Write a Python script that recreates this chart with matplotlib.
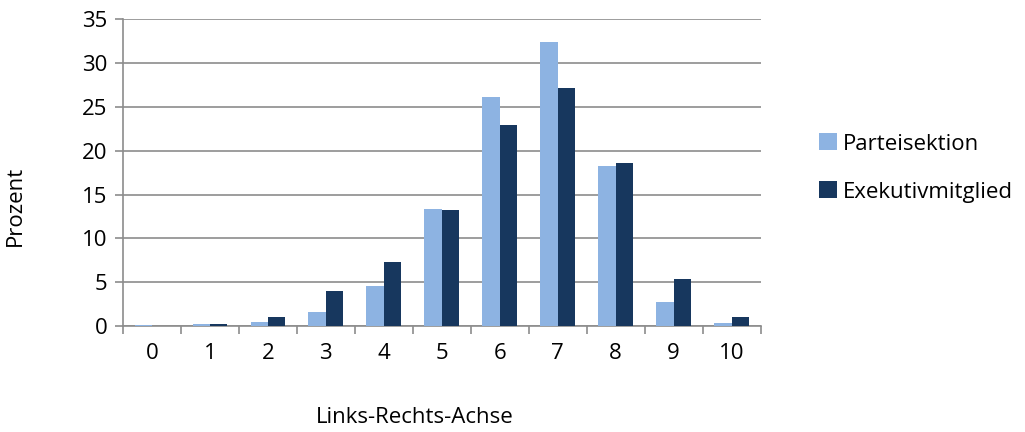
import numpy as np
import matplotlib

matplotlib.use("Agg")
import matplotlib.pyplot as plt

plt.rcParams["font.family"] = ["Open Sans", "DejaVu Sans"]

categories = ["0", "1", "2", "3", "4", "5", "6", "7", "8", "9", "10"]
parteisektion = [0.1, 0.2, 0.45, 1.65, 4.55, 13.3, 26.1, 32.4, 18.2, 2.8, 0.35]
exekutivmitglied = [0.0, 0.2, 1.05, 4.05, 7.35, 13.2, 22.9, 27.1, 18.6, 5.4, 1.0]

light = "#8DB3E2"
dark = "#17375E"
grid = "#8C8C8C"
fs = 16

fig = plt.figure(figsize=(10.25, 4.32), dpi=100)
ax = fig.add_axes([0.12, 0.245, 0.622, 0.711])

x = np.arange(len(categories))
w = 0.3
ax.bar(x - w / 2, parteisektion, w, color=light, label="Parteisektion", zorder=3)
ax.bar(x + w / 2, exekutivmitglied, w, color=dark, label="Exekutivmitglied", zorder=3)

ax.set_xlim(-0.5, len(categories) - 0.5)
ax.set_ylim(0, 35)
ax.set_yticks(np.arange(0, 36, 5))
ax.yaxis.grid(True, color=grid, linewidth=1.2, zorder=0)

ax.set_xticks(x)
ax.set_xticklabels(categories)
ax.set_xticks(np.arange(-0.5, len(categories), 1), minor=True)
ax.tick_params(axis="x", which="major", length=0, pad=12, labelsize=fs)
ax.tick_params(axis="x", which="minor", length=6, color=grid, width=1.2)
ax.tick_params(axis="y", length=6, color=grid, width=1.2, pad=5, labelsize=fs)

for s in ["top", "right"]:
    ax.spines[s].set_visible(False)
for s in ["left", "bottom"]:
    ax.spines[s].set_color(grid)
    ax.spines[s].set_linewidth(1.2)

ax.set_xlabel("Links-Rechts-Achse", fontsize=fs)
ax.set_ylabel("Prozent", fontsize=fs)
ax.xaxis.set_label_coords(0.458, -0.262)
ax.yaxis.set_label_coords(-0.152, 0.39)

ax.legend(loc="center left", bbox_to_anchor=(1.06, 0.515), frameon=False,
          fontsize=fs, handlelength=0.8, handleheight=0.8, handletextpad=0.3,
          labelspacing=1.2)

plt.savefig("out.png", dpi=100)
